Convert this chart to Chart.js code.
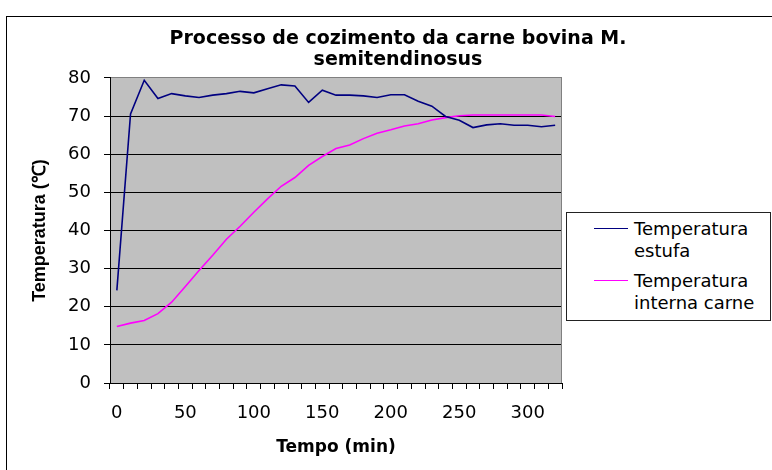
<!DOCTYPE html>
<html lang="pt">
<head>
<meta charset="utf-8">
<title>Processo de cozimento da carne bovina M. semitendinosus</title>
<script src="https://cdn.jsdelivr.net/npm/chart.js@4.4.1/dist/chart.umd.min.js"></script>
<style>
  html, body {
    margin: 0;
    padding: 0;
    background: #fff;
    overflow: hidden;
  }
  #wrap {
    position: relative;
    width: 772px;
    height: 470px;
  }
  #frame {
    position: absolute;
    left: 6px;
    top: 16px;
    width: 800px;
    height: 500px;
    border: 1px solid #000;
  }
  #chart {
    position: absolute;
    left: 0;
    top: 0;
  }
  .legend {
    position: absolute;
    left: 566px;
    top: 212px;
    width: 203px;
    height: 107px;
    border: 1px solid #222;
    background: #fff;
    font-family: 'DejaVu Sans', sans-serif;
    font-size: 18px;
    line-height: 22px;
    color: #000;
  }
  .legend .item {
    position: absolute;
    left: 67px;
  }
  .legend .swatch {
    position: absolute;
    left: 27px;
    width: 34px;
    height: 0;
    border-top: 1.5px solid;
  }
</style>
</head>
<body>
<div id="wrap">
  <div id="frame"></div>
  <canvas id="chart" width="772" height="470"></canvas>
  <div class="legend" id="legend"></div>
</div>
<script>
const times = [0, 10, 20, 30, 40, 50, 60, 70, 80, 90, 100, 110, 120, 130, 140, 150, 160,
  170, 180, 190, 200, 210, 220, 230, 240, 250, 260, 270, 280, 290, 300, 310, 320];

const estufa = [24.3, 70.6, 79.4, 74.6, 75.9, 75.3, 74.9, 75.5, 75.9, 76.5, 76.1, 77.2, 78.2,
  77.9, 73.6, 76.8, 75.5, 75.5, 75.3, 74.9, 75.6, 75.6, 73.9, 72.6, 69.9, 68.9, 67.0, 67.7,
  68.0, 67.6, 67.6, 67.2, 67.6];

const carne = [14.8, 15.7, 16.4, 18.2, 21.2, 25.3, 29.5, 33.5, 37.7, 41.1, 44.8, 48.3, 51.6,
  53.9, 57.1, 59.4, 61.5, 62.4, 64.1, 65.5, 66.4, 67.4, 68.0, 69.0, 69.6, 70.1, 70.3, 70.3,
  70.3, 70.3, 70.3, 70.3, 69.9];

const shownTicks = [0, 50, 100, 150, 200, 250, 300];

const seriesNames = [['Temperatura', 'estufa'], ['Temperatura', 'interna carne']];
const seriesColors = ['#000080', '#ff00ff'];

Chart.defaults.font.family = "'DejaVu Sans', sans-serif";
Chart.defaults.color = '#000';

// grey plot area, with the grey frame on the top and right
const plotBackground = {
  id: 'plotBackground',
  beforeDraw(chart) {
    const { ctx, chartArea } = chart;
    ctx.save();
    ctx.fillStyle = '#c0c0c0';
    ctx.fillRect(chartArea.left, chartArea.top, chartArea.right - chartArea.left, chartArea.bottom - chartArea.top);
    ctx.restore();
  },
  beforeDatasetsDraw(chart) {
    const { ctx, chartArea } = chart;
    ctx.save();
    ctx.strokeStyle = '#808080';
    ctx.lineWidth = 1;
    ctx.beginPath();
    ctx.moveTo(chartArea.right - 0.5, chartArea.top);
    ctx.lineTo(chartArea.right - 0.5, chartArea.bottom);
    ctx.stroke();
    ctx.restore();
  },
};

function renderLegend() {
  const legendEl = document.getElementById('legend');
  legendEl.innerHTML = '';
  seriesNames.forEach((lines, i) => {
    const top = 5 + i * 52;
    const swatch = document.createElement('div');
    swatch.className = 'swatch';
    swatch.style.top = `${top + 10}px`;
    swatch.style.borderColor = seriesColors[i];
    legendEl.appendChild(swatch);

    const item = document.createElement('div');
    item.className = 'item';
    item.style.top = `${top}px`;
    item.innerHTML = lines.join('<br>');
    legendEl.appendChild(item);
  });
}

const chart = new Chart(document.getElementById('chart'), {
  type: 'line',
  data: {
    labels: times,
    datasets: [
      {
        label: seriesNames[0].join(' '),
        data: estufa,
        borderColor: seriesColors[0],
        borderWidth: 1.6,
        pointRadius: 0,
        tension: 0,
      },
      {
        label: seriesNames[1].join(' '),
        data: carne,
        borderColor: seriesColors[1],
        borderWidth: 1.6,
        pointRadius: 0,
        tension: 0,
      },
    ],
  },
  options: {
    responsive: false,
    animation: false,
    devicePixelRatio: 1,
    layout: {
      padding: { left: 24, right: 0, top: 0, bottom: 0 },
    },
    plugins: {
      legend: { display: false },
      tooltip: { enabled: false },
      title: {
        display: true,
        text: ['Processo de cozimento da carne bovina M.', 'semitendinosus'],
        color: '#000',
        font: { size: 19, weight: 'bold', lineHeight: 1.105 },
        padding: { top: 29, bottom: 7 },
      },
    },
    scales: {
      x: {
        type: 'category',
        offset: true,
        grid: {
          display: true,
          offset: true,
          drawOnChartArea: false,
          drawTicks: true,
          tickLength: 6,
          tickColor: '#000',
        },
        border: { display: true, color: '#000', width: 1 },
        ticks: {
          autoSkip: false,
          maxRotation: 0,
          padding: 14,
          font: { size: 18 },
          color: '#000',
          callback(value, index) {
            const t = times[index];
            return shownTicks.includes(t) ? String(t) : '';
          },
        },
        title: {
          display: true,
          text: 'Tempo (min)',
          color: '#000',
          font: { size: 17, weight: 'bold' },
          padding: { top: 0, bottom: 12 },
        },
        afterFit(scale) {
          scale.height = 87;
        },
      },
      y: {
        position: 'left',
        min: 0,
        max: 80,
        ticks: {
          stepSize: 10,
          padding: 13,
          font: { size: 18 },
          color: '#000',
        },
        grid: {
          color: (ctx) => (ctx.tick && ctx.tick.value === 80 ? '#808080' : '#000'),
          lineWidth: 1,
          drawTicks: true,
          tickLength: 6,
          tickColor: '#000',
        },
        border: { display: true, color: '#000', width: 1 },
        title: {
          display: true,
          text: 'Temperatura (℃)',
          color: '#000',
          font: { family: "'Liberation Sans', Arial, sans-serif", size: 18, weight: 'bold' },
          padding: { top: 5, bottom: 0 },
        },
        afterFit(scale) {
          scale.width = 86;
        },
      },
      // empty right-hand space where the legend box sits
      side: {
        type: 'linear',
        position: 'right',
        display: true,
        grid: { display: false },
        border: { display: false },
        ticks: { display: false },
        afterFit(scale) {
          scale.width = 210;
        },
      },
    },
  },
  plugins: [plotBackground],
});

renderLegend();
</script>
</body>
</html>
